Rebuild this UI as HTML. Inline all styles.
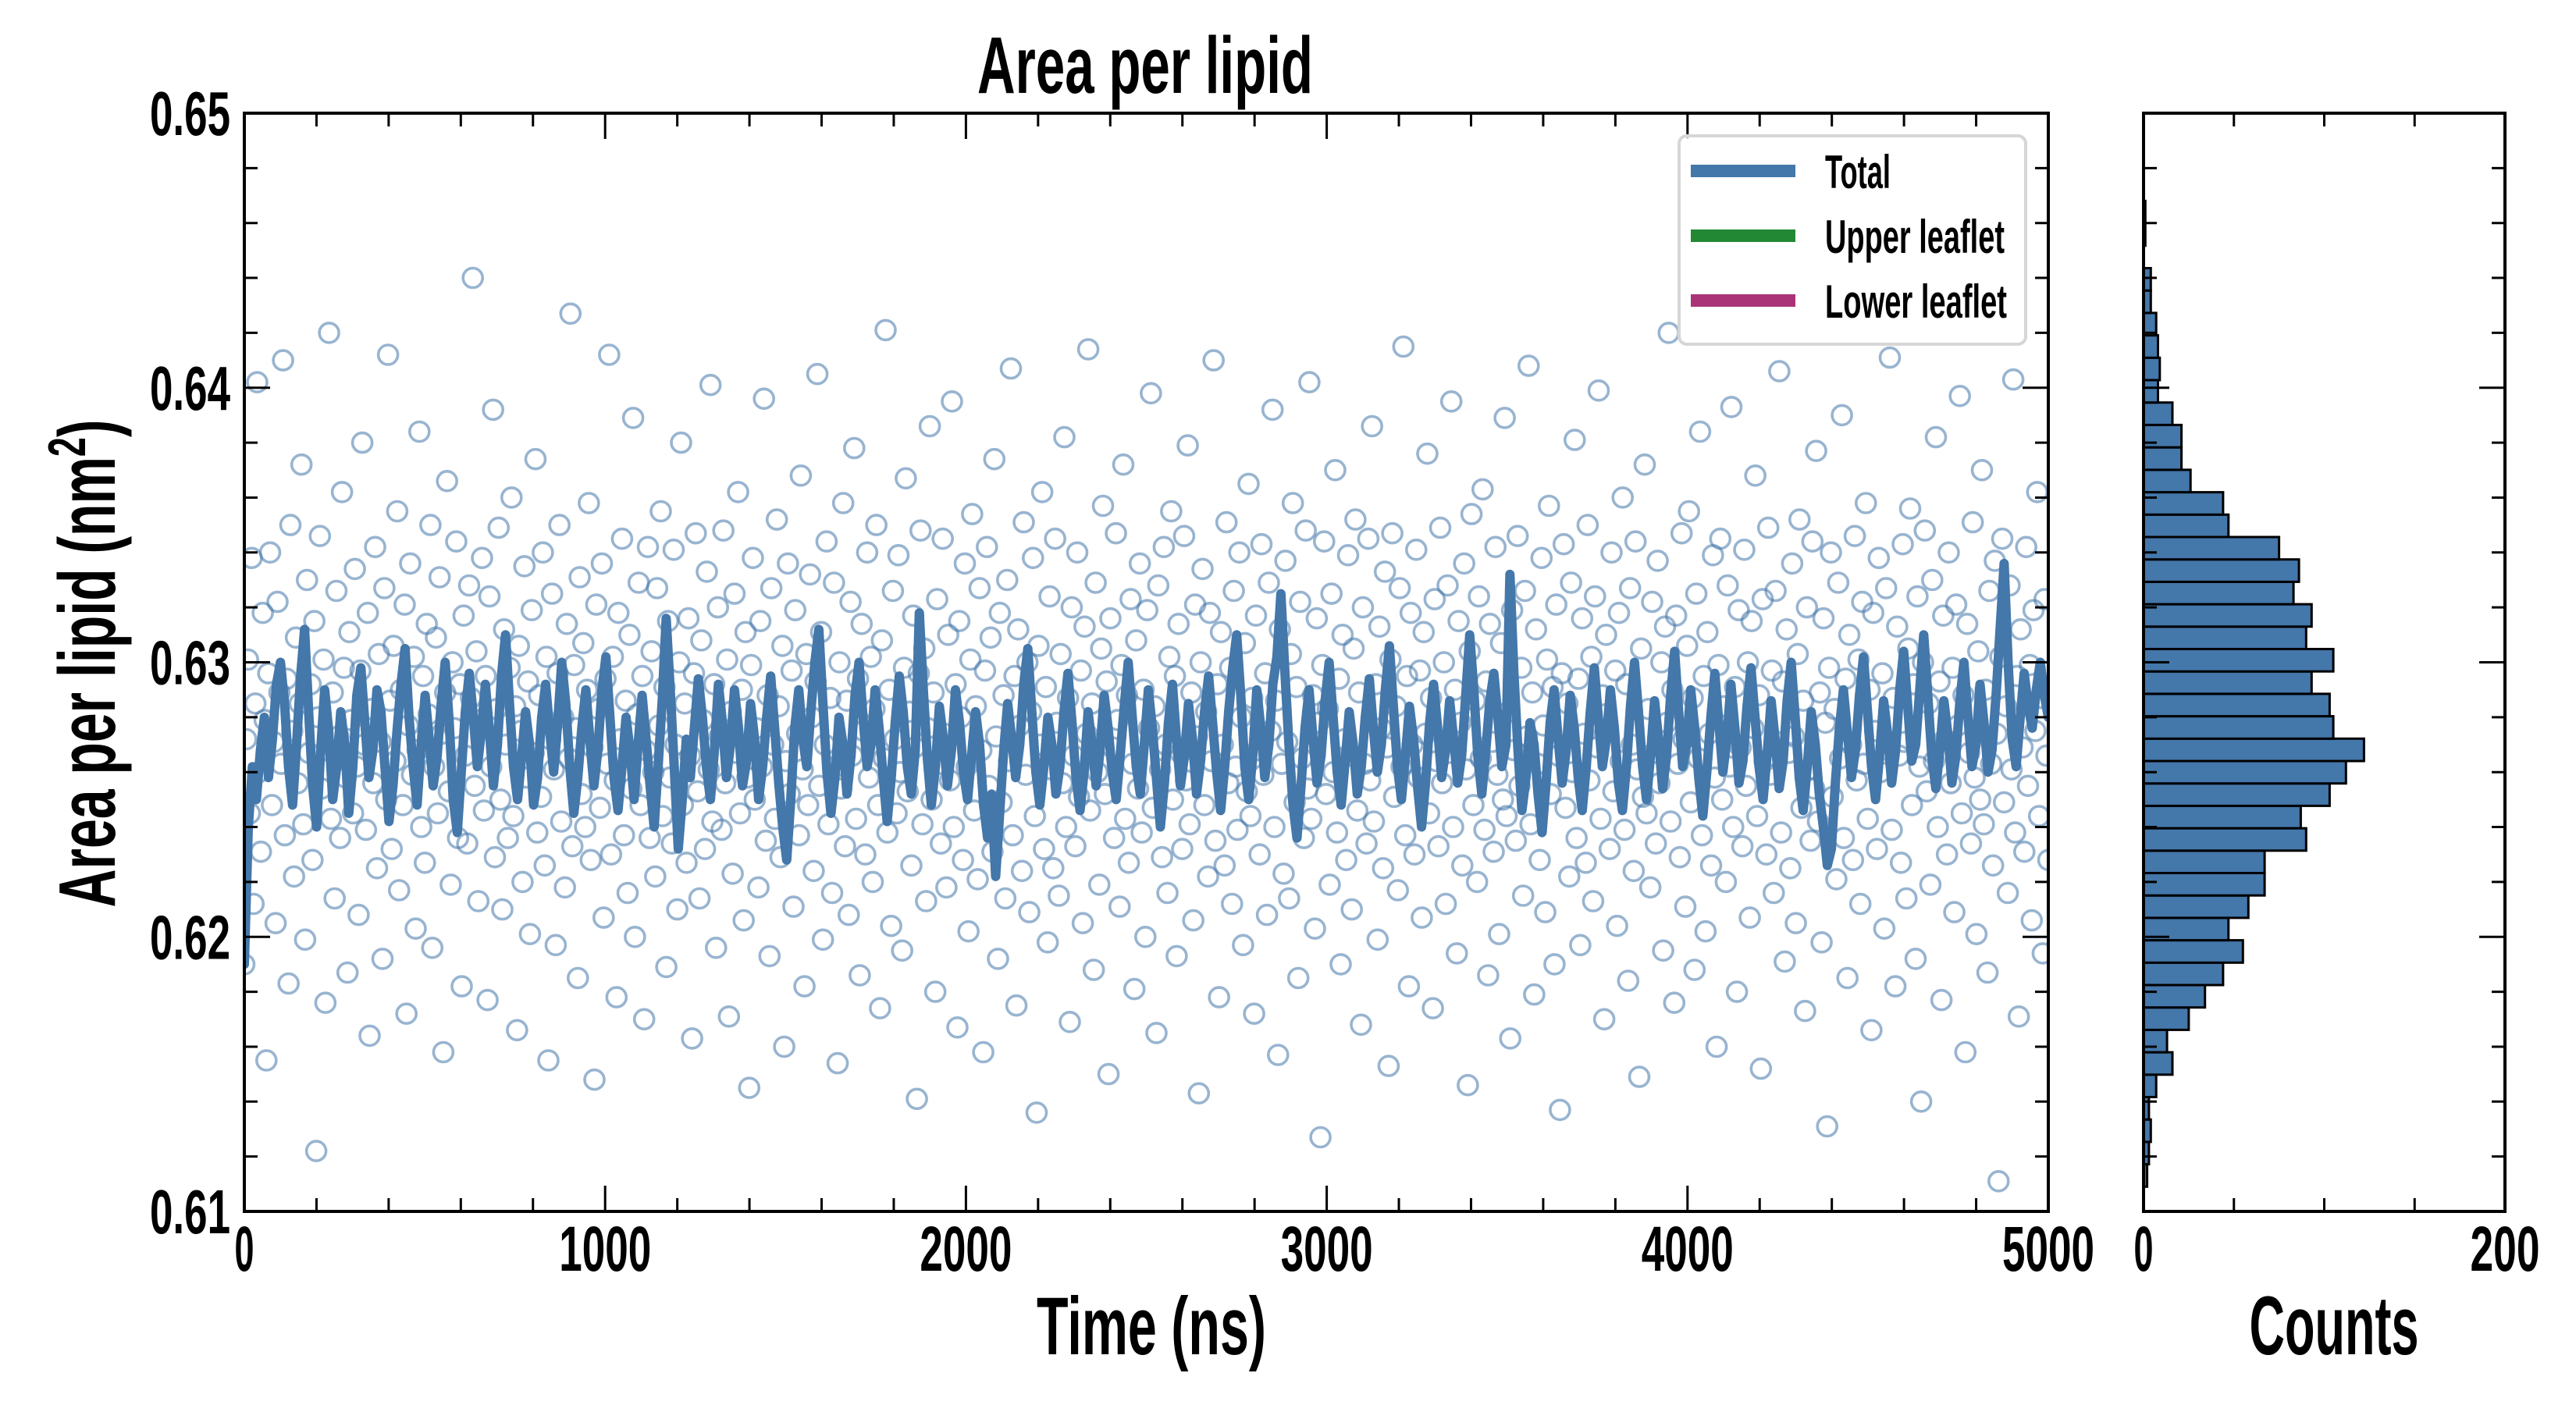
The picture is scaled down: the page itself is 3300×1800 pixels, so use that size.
<!DOCTYPE html>
<html><head><meta charset="utf-8">
<style>
html,body{margin:0;padding:0;background:#fff;}
svg{display:block;}
text{font-family:"Liberation Sans Narrow","Liberation Sans",sans-serif;font-weight:bold;fill:#000;}
</style></head>
<body>
<svg id="chart" width="3300" height="1800" viewBox="0 0 3300 1800" xmlns="http://www.w3.org/2000/svg">
<defs><clipPath id="clipMain"><rect x="313" y="145" width="2311" height="1407"/></clipPath></defs>
<rect x="0" y="0" width="3300" height="1800" fill="#fff"/>
<g id="scatterG" clip-path="url(#clipMain)"></g>
<g id="lineG" clip-path="url(#clipMain)"></g>
<g id="histG"></g>
<g id="axesG"></g>
<text x="1467" y="119" font-size="103" text-anchor="middle" textLength="430" lengthAdjust="spacingAndGlyphs">Area per lipid</text>
<text x="1475" y="1735" font-size="105" text-anchor="middle" textLength="294" lengthAdjust="spacingAndGlyphs">Time (ns)</text>
<text x="2990" y="1735" font-size="107" text-anchor="middle" textLength="217" lengthAdjust="spacingAndGlyphs">Counts</text>
<text transform="translate(147,850) rotate(-90)" font-size="103" text-anchor="middle" textLength="625" lengthAdjust="spacingAndGlyphs">Area per lipid (nm<tspan dy="-38" font-size="68">2</tspan><tspan dy="38">)</tspan></text>
<g>
<rect x="2151" y="174" width="444" height="267" rx="10" fill="#fff" fill-opacity="0.8" stroke="#d6d6d6" stroke-width="4"/>
<g><rect x="2166" y="211" width="134" height="16" fill="#4477aa"/><text x="2338" y="241" font-size="60" textLength="84" lengthAdjust="spacingAndGlyphs">Total</text></g>
<g><rect x="2166" y="294" width="134" height="16" fill="#228833"/><text x="2338" y="324" font-size="60" textLength="230" lengthAdjust="spacingAndGlyphs">Upper leaflet</text></g>
<g><rect x="2166" y="377" width="134" height="16" fill="#aa3377"/><text x="2338" y="407" font-size="60" textLength="233" lengthAdjust="spacingAndGlyphs">Lower leaflet</text></g>
</g>
</svg>
<script>
const xTickValues=[0,1000,2000,3000,4000,5000];
const xTickLabels=["0","1000","2000","3000","4000","5000"];
const yTickValues=[0.61,0.62,0.63,0.64,0.65];
const yTickLabels=["0.61","0.62","0.63","0.64","0.65"];
const histTickValues=[0,200];
const histTickLabels=["0","200"];
const histBinStart=0.6109;
const histBinWidth=0.000816;
const histCounts=[2,3,4,3,7,16,13,25,34,44,55,47,58,67,67,90,87,103,112,122,105,103,93,105,90,93,83,86,75,47,44,26,21,21,16,8,9,8,7,4,4,0,1,1];
const timeEnd=5000;
const lineValues=[
.6190,.6240,.6262,.6250,.6268,.6280,.6258,.6272,.6292,.6300,.6285,.6262,.6248,.6270,.6295,.6312,.6282,.6255,.6240,.6268,
.6290,.6275,.6250,.6262,.6282,.6270,.6245,.6262,.6288,.6298,.6278,.6258,.6268,.6290,.6282,.6262,.6242,.6255,.6275,.6292,
.6305,.6280,.6262,.6248,.6270,.6288,.6272,.6255,.6266,.6285,.6300,.6278,.6250,.6238,.6260,.6282,.6296,.6280,.6262,.6275,
.6292,.6275,.6255,.6270,.6295,.6310,.6285,.6262,.6250,.6265,.6282,.6270,.6248,.6258,.6280,.6292,.6275,.6260,.6278,.6300,
.6285,.6262,.6245,.6258,.6276,.6290,.6272,.6255,.6268,.6290,.6302,.6280,.6258,.6246,.6262,.6280,.6268,.6250,.6270,.6288,
.6272,.6255,.6240,.6262,.6286,.6316,.6290,.6262,.6232,.6250,.6272,.6258,.6276,.6294,.6280,.6262,.6250,.6268,.6292,.6278,
.6258,.6270,.6290,.6276,.6255,.6264,.6285,.6272,.6250,.6262,.6280,.6295,.6276,.6256,.6240,.6228,.6250,.6276,.6290,.6272,
.6262,.6282,.6300,.6312,.6285,.6260,.6245,.6258,.6280,.6270,.6252,.6266,.6288,.6300,.6280,.6262,.6270,.6290,.6276,.6258,
.6242,.6258,.6278,.6295,.6282,.6262,.6252,.6268,.6318,.6290,.6265,.6248,.6262,.6284,.6272,.6255,.6268,.6290,.6278,.6260,
.6250,.6266,.6282,.6270,.6248,.6236,.6252,.6222,.6245,.6268,.6285,.6272,.6258,.6270,.6292,.6305,.6282,.6260,.6248,.6262,
.6280,.6270,.6252,.6262,.6282,.6296,.6278,.6258,.6246,.6260,.6282,.6270,.6255,.6268,.6288,.6276,.6260,.6250,.6266,.6284,
.6300,.6280,.6262,.6252,.6270,.6290,.6276,.6258,.6240,.6256,.6278,.6292,.6272,.6255,.6266,.6285,.6272,.6252,.6264,.6282,
.6295,.6278,.6260,.6246,.6262,.6282,.6298,.6310,.6288,.6262,.6250,.6266,.6290,.6276,.6258,.6270,.6292,.6302,.6325,.6296,
.6270,.6248,.6236,.6255,.6276,.6290,.6272,.6256,.6266,.6286,.6300,.6280,.6260,.6248,.6264,.6282,.6270,.6252,.6262,.6280,
.6294,.6276,.6260,.6270,.6290,.6306,.6284,.6262,.6250,.6266,.6284,.6272,.6255,.6240,.6256,.6278,.6292,.6276,.6258,.6268,
.6286,.6272,.6256,.6266,.6288,.6310,.6290,.6266,.6252,.6268,.6286,.6296,.6280,.6262,.6270,.6332,.6296,.6268,.6246,.6258,
.6278,.6270,.6252,.6238,.6256,.6278,.6290,.6272,.6256,.6268,.6288,.6276,.6258,.6246,.6262,.6282,.6298,.6280,.6262,.6272,
.6290,.6276,.6256,.6246,.6262,.6284,.6300,.6282,.6262,.6250,.6266,.6286,.6272,.6254,.6266,.6288,.6304,.6282,.6262,.6270,
.6290,.6276,.6258,.6244,.6260,.6280,.6296,.6278,.6260,.6272,.6292,.6276,.6256,.6264,.6284,.6298,.6280,.6262,.6250,.6266,
.6286,.6272,.6254,.6264,.6286,.6300,.6280,.6258,.6246,.6262,.6282,.6270,.6252,.6240,.6226,.6232,.6256,.6276,.6290,.6274,
.6258,.6268,.6288,.6302,.6282,.6262,.6250,.6266,.6286,.6274,.6256,.6268,.6290,.6304,.6284,.6264,.6270,.6290,.6310,.6288,
.6266,.6254,.6268,.6286,.6274,.6256,.6266,.6286,.6300,.6280,.6262,.6270,.6292,.6278,.6260,.6268,.6288,.6312,.6336,.6300,
.6272,.6262,.6280,.6296,.6284,.6276,.6290,.6300,.6288,.6280];
const scatterValues=[
.6190,.6272,.6301,.6245,.6338,.6212,.6285,.6402,.6260,.6231,.6318,.6279,.6155,.6296,.6340,.6248,.6271,.6205,.6322,.6289,
.6263,.6410,.6237,.6294,.6183,.6350,.6275,.6222,.6309,.6256,.6285,.6372,.6241,.6199,.6330,.6267,.6292,.6228,.6315,.6122,
.6280,.6346,.6254,.6301,.6176,.6268,.6420,.6243,.6289,.6214,.6326,.6273,.6236,.6362,.6298,.6258,.6187,.6311,.6279,.6245,
.6334,.6262,.6208,.6297,.6380,.6270,.6239,.6318,.6164,.6283,.6256,.6342,.6225,.6303,.6271,.6192,.6327,.6250,.6412,.6286,
.6232,.6306,.6264,.6355,.6217,.6290,.6248,.6321,.6172,.6277,.6336,.6259,.6302,.6203,.6268,.6384,.6240,.6295,.6227,.6314,
.6281,.6350,.6196,.6262,.6309,.6245,.6331,.6274,.6158,.6289,.6366,.6253,.6219,.6300,.6276,.6344,.6236,.6292,.6182,.6317,
.6266,.6234,.6328,.6287,.6440,.6255,.6304,.6213,.6279,.6338,.6246,.6295,.6177,.6324,.6262,.6392,.6229,.6283,.6349,.6250,
.6210,.6312,.6270,.6236,.6298,.6360,.6244,.6284,.6166,.6306,.6275,.6220,.6335,.6258,.6293,.6201,.6319,.6267,.6374,.6238,
.6288,.6251,.6340,.6226,.6302,.6155,.6272,.6325,.6261,.6197,.6296,.6350,.6242,.6280,.6218,.6314,.6265,.6427,.6233,.6299,
.6276,.6185,.6331,.6252,.6307,.6240,.6290,.6358,.6228,.6269,.6148,.6321,.6283,.6247,.6336,.6207,.6294,.6263,.6412,.6230,
.6302,.6257,.6178,.6318,.6272,.6345,.6237,.6286,.6216,.6310,.6254,.6389,.6200,.6281,.6329,.6248,.6295,.6170,.6268,.6342,
.6236,.6304,.6260,.6222,.6327,.6277,.6355,.6244,.6291,.6189,.6315,.6258,.6234,.6341,.6270,.6210,.6300,.6380,.6248,.6285,
.6227,.6316,.6266,.6163,.6296,.6347,.6253,.6214,.6308,.6279,.6232,.6333,.6261,.6401,.6242,.6292,.6196,.6320,.6273,.6239,
.6348,.6256,.6301,.6171,.6282,.6223,.6325,.6267,.6362,.6245,.6290,.6206,.6311,.6258,.6145,.6299,.6338,.6250,.6276,.6218,
.6315,.6262,.6396,.6235,.6288,.6193,.6327,.6270,.6243,.6352,.6284,.6229,.6306,.6160,.6264,.6336,.6252,.6297,.6211,.6319,
.6274,.6237,.6368,.6261,.6182,.6303,.6248,.6332,.6280,.6224,.6293,.6405,.6255,.6311,.6199,.6270,.6344,.6241,.6287,.6216,
.6329,.6262,.6154,.6300,.6254,.6358,.6233,.6286,.6208,.6322,.6266,.6378,.6243,.6294,.6186,.6314,.6275,.6230,.6340,.6258,
.6302,.6220,.6283,.6350,.6248,.6174,.6308,.6265,.6421,.6238,.6290,.6204,.6326,.6272,.6245,.6339,.6260,.6195,.6298,.6367,
.6253,.6282,.6226,.6317,.6269,.6141,.6296,.6348,.6241,.6305,.6213,.6276,.6386,.6250,.6289,.6180,.6323,.6263,.6234,.6345,
.6274,.6218,.6310,.6257,.6395,.6240,.6292,.6167,.6315,.6280,.6228,.6336,.6262,.6202,.6301,.6354,.6246,.6284,.6221,.6327,
.6268,.6158,.6297,.6342,.6255,.6309,.6231,.6374,.6273,.6192,.6318,.6249,.6288,.6214,.6330,.6264,.6407,.6237,.6295,.6175,
.6312,.6277,.6224,.6351,.6259,.6300,.6209,.6282,.6338,.6244,.6136,.6306,.6270,.6362,.6232,.6291,.6198,.6324,.6261,.6225,
.6345,.6278,.6215,.6303,.6256,.6382,.6240,.6287,.6169,.6320,.6266,.6233,.6340,.6251,.6297,.6205,.6313,.6274,.6414,.6246,
.6285,.6188,.6329,.6260,.6219,.6305,.6357,.6252,.6293,.6150,.6316,.6269,.6236,.6347,.6279,.6211,.6299,.6372,.6243,.6288,
.6227,.6323,.6263,.6181,.6308,.6254,.6336,.6238,.6290,.6200,.6319,.6276,.6398,.6247,.6284,.6165,.6328,.6261,.6229,.6342,
.6270,.6216,.6302,.6355,.6250,.6295,.6193,.6314,.6267,.6232,.6346,.6257,.6379,.6241,.6289,.6206,.6321,.6273,.6143,.6300,
.6334,.6248,.6282,.6222,.6318,.6264,.6410,.6235,.6292,.6178,.6311,.6270,.6226,.6351,.6256,.6298,.6212,.6326,.6262,.6239,
.6340,.6280,.6197,.6307,.6253,.6365,.6244,.6287,.6172,.6317,.6268,.6230,.6343,.6259,.6296,.6208,.6329,.6275,.6392,.6240,
.6286,.6157,.6312,.6263,.6223,.6337,.6271,.6214,.6303,.6358,.6249,.6291,.6185,.6322,.6265,.6236,.6348,.6254,.6402,.6243,
.6288,.6203,.6316,.6278,.6127,.6299,.6344,.6252,.6283,.6219,.6325,.6260,.6370,.6238,.6294,.6190,.6310,.6272,.6228,.6339,
.6266,.6210,.6305,.6352,.6246,.6289,.6168,.6320,.6263,.6234,.6345,.6257,.6386,.6242,.6292,.6199,.6313,.6276,.6225,.6333,
.6269,.6153,.6301,.6347,.6251,.6284,.6217,.6327,.6262,.6415,.6237,.6295,.6182,.6318,.6270,.6230,.6341,.6258,.6297,.6207,
.6311,.6274,.6376,.6245,.6287,.6174,.6323,.6264,.6233,.6349,.6256,.6300,.6212,.6328,.6267,.6395,.6240,.6290,.6194,.6315,
.6278,.6226,.6336,.6261,.6146,.6304,.6354,.6248,.6286,.6220,.6324,.6265,.6363,.6239,.6293,.6186,.6314,.6271,.6231,.6342,
.6259,.6201,.6307,.6250,.6389,.6244,.6282,.6163,.6319,.6268,.6235,.6346,.6255,.6298,.6215,.6326,.6273,.6408,.6241,.6289,
.6179,.6312,.6263,.6228,.6338,.6277,.6209,.6301,.6357,.6252,.6291,.6190,.6321,.6266,.6137,.6296,.6343,.6247,.6285,.6222,
.6329,.6260,.6381,.6236,.6294,.6197,.6316,.6274,.6227,.6350,.6257,.6302,.6213,.6324,.6269,.6399,.6243,.6288,.6170,.6310,
.6276,.6232,.6340,.6253,.6297,.6204,.6318,.6264,.6360,.6239,.6292,.6184,.6327,.6270,.6224,.6344,.6261,.6149,.6305,.6251,
.6372,.6245,.6283,.6218,.6322,.6267,.6234,.6337,.6256,.6300,.6195,.6313,.6278,.6420,.6242,.6290,.6176,.6317,.6263,.6229,
.6347,.6272,.6211,.6306,.6355,.6249,.6287,.6188,.6325,.6265,.6384,.6237,.6295,.6202,.6311,.6274,.6226,.6339,.6258,.6160,
.6299,.6345,.6250,.6284,.6220,.6328,.6262,.6393,.6240,.6291,.6180,.6319,.6269,.6233,.6341,.6255,.6300,.6207,.6315,.6276,
.6368,.6244,.6288,.6152,.6323,.6264,.6230,.6349,.6259,.6297,.6216,.6326,.6271,.6406,.6238,.6293,.6191,.6312,.6267,.6225,
.6336,.6273,.6205,.6303,.6352,.6247,.6286,.6173,.6320,.6261,.6235,.6344,.6254,.6377,.6242,.6289,.6198,.6316,.6278,.6131,
.6298,.6340,.6251,.6283,.6221,.6329,.6265,.6390,.6236,.6294,.6185,.6310,.6270,.6228,.6346,.6257,.6301,.6212,.6322,.6263,
.6358,.6243,.6290,.6166,.6318,.6275,.6232,.6338,.6260,.6296,.6203,.6327,.6268,.6411,.6239,.6287,.6182,.6313,.6266,.6227,
.6343,.6271,.6214,.6305,.6356,.6248,.6292,.6192,.6324,.6262,.6140,.6300,.6348,.6253,.6285,.6219,.6330,.6264,.6382,.6240,
.6293,.6177,.6317,.6272,.6230,.6340,.6256,.6298,.6209,.6321,.6277,.6397,.6245,.6288,.6158,.6314,.6267,.6234,.6351,.6258,
.6201,.6304,.6250,.6370,.6241,.6290,.6187,.6326,.6263,.6226,.6337,.6274,.6111,.6302,.6345,.6249,.6284,.6216,.6328,.6261,
.6403,.6238,.6295,.6171,.6312,.6269,.6231,.6342,.6255,.6299,.6206,.6319,.6275,.6362,.6244,.6287,.6194,.6323,.6266,.6228];

const MX0=313,MX1=2624,MY0=145,MY1=1552;
const HX0=2746,HX1=3209;
function xMain(t){return MX0+(t-0)/(5000-0)*(MX1-MX0);}
function yVal(v){return MY1-(v-0.61)/(0.65-0.61)*(MY1-MY0);}
function xHist(c){return HX0+(c-0)/(200-0)*(HX1-HX0);}
const NS="http://www.w3.org/2000/svg";
function mk(tag,attrs,parent){const e=document.createElementNS(NS,tag);for(const k in attrs)e.setAttribute(k,attrs[k]);parent.appendChild(e);return e;}

const sg=document.getElementById('scatterG');
const sDt=timeEnd/(scatterValues.length-1);
scatterValues.forEach((v,i)=>{
  const c=mk('circle',{cx:xMain(i*sDt).toFixed(1),cy:yVal(v).toFixed(1),r:12.5,fill:'none',stroke:'#4477aa','stroke-opacity':0.55,'stroke-width':3.6},sg);
  
  
});
const lg=document.getElementById('lineG');
const lDt=timeEnd/(lineValues.length-1);
let d='';
lineValues.forEach((v,i)=>{d+=(i?'L':'M')+xMain(i*lDt).toFixed(1)+','+yVal(v).toFixed(1);});
const pl=mk('path',{d:d,fill:'none',stroke:'#4477aa','stroke-width':12,'stroke-linejoin':'round','stroke-linecap':'round'},lg);



const hg=document.getElementById('histG');
histCounts.forEach((c,i)=>{
  if(c<=0)return;
  const lo=histBinStart+i*histBinWidth, hi=lo+histBinWidth;
  const yTop=yVal(hi), yBot=yVal(lo);
  const r=mk('rect',{x:HX0,y:yTop.toFixed(1),width:(xHist(c)-HX0).toFixed(1),height:(yBot-yTop).toFixed(1),fill:'#4477aa',stroke:'#000','stroke-width':3},hg);
  
  
});

const ag=document.getElementById('axesG');
function frame(x0,x1,name){
  const r=mk('rect',{x:x0,y:MY0,width:x1-x0,height:MY1-MY0,fill:'none',stroke:'#000','stroke-width':4},ag);
  
  
}
frame(MX0,MX1,'main-axes-frame');
frame(HX0,HX1,'hist-axes-frame');
function tick(x1,y1,x2,y2){mk('line',{x1:x1,y1:y1,x2:x2,y2:y2,stroke:'#000','stroke-width':3},ag);}
for(let k=0;k<=20;k++){
  const v=0.61+k*0.002, y=yVal(v), major=(k%5===0), L=major?33:17;
  tick(MX0,y,MX0+L,y); tick(MX1,y,MX1-L,y);
  tick(HX0,y,HX0+L,y); tick(HX1,y,HX1-L,y);
}
for(let t=0;t<=5000;t+=200){
  const x=xMain(t), L=(t%1000===0)?33:17;
  tick(x,MY1,x,MY1-L); tick(x,MY0,x,MY0+L);
}
for(let c=0;c<=200;c+=50){
  const x=xHist(c), L=(c%200===0)?33:17;
  tick(x,MY1,x,MY1-L); tick(x,MY0,x,MY0+L);
}
yTickValues.forEach((v,i)=>{
  const t=mk('text',{x:295,y:(yVal(v)+28).toFixed(1),'font-size':80,'text-anchor':'end',textLength:103,lengthAdjust:'spacingAndGlyphs'},ag);
  t.textContent=yTickLabels[i];
  
  
});
xTickValues.forEach((v,i)=>{
  const lab=xTickLabels[i];
  const w=lab.length===1?25:118;
  const t=mk('text',{x:xMain(v).toFixed(1),y:1628,'font-size':82,'text-anchor':'middle',textLength:w,lengthAdjust:'spacingAndGlyphs'},ag);
  t.textContent=lab;
  
  
});
histTickValues.forEach((v,i)=>{
  const lab=histTickLabels[i];
  const w=lab.length===1?25:89;
  const t=mk('text',{x:xHist(v).toFixed(1),y:1628,'font-size':82,'text-anchor':'middle',textLength:w,lengthAdjust:'spacingAndGlyphs'},ag);
  t.textContent=lab;
  
  
});
</script>
</body></html>
